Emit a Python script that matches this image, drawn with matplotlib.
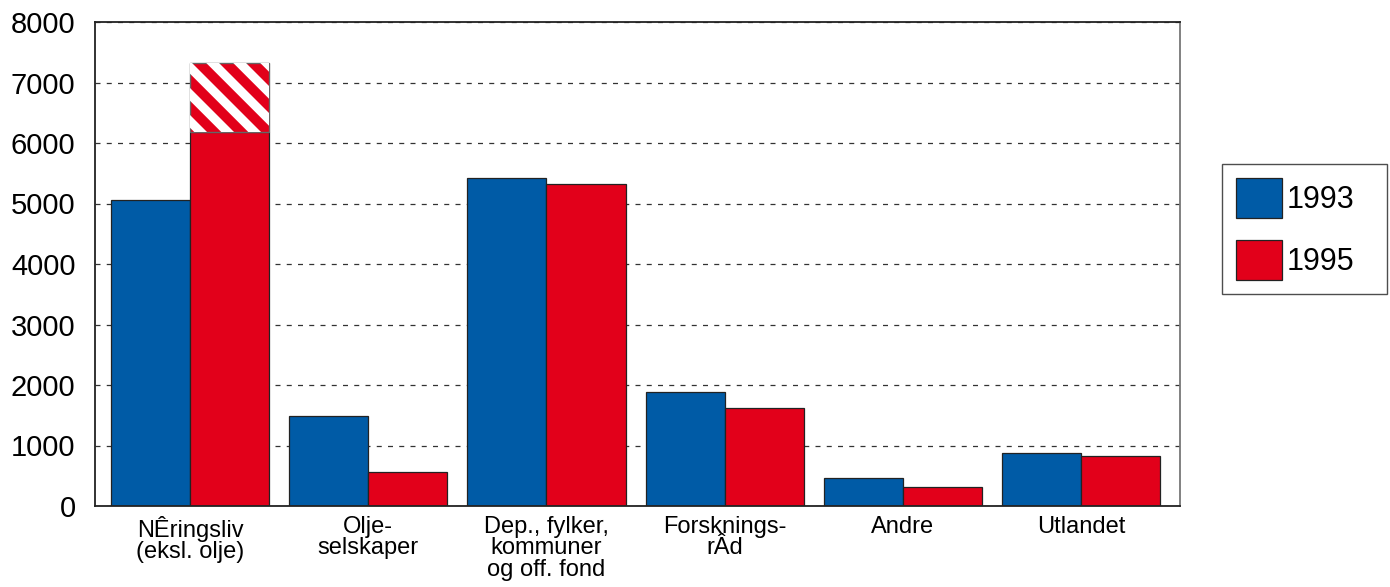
import matplotlib.pyplot as plt
import numpy as np
from matplotlib.transforms import IdentityTransform

plt.rcParams['font.family'] = ['Liberation Sans', 'DejaVu Sans']

# Data
categories = ["NÊringsliv\n(eksl. olje)", "Olje-\nselskaper",
              "Dep., fylker,\nkommuner\nog off. fond", "Forsknings-\nrÂd",
              "Andre", "Utlandet"]
v1993 = [5050, 1480, 5420, 1890, 465, 880]
v1995 = [6190, 560, 5330, 1620, 315, 830]
extra1995 = [1140, 0, 0, 0, 0, 0]   # striped top part
yticks = [0, 1000, 2000, 3000, 4000, 5000, 6000, 7000, 8000]

blue = "#005BA6"
red = "#E2001A"

fig = plt.figure(figsize=(13.9, 5.87), dpi=100)
ax = fig.add_axes([95 / 1390, 81 / 587, 1085 / 1390, 484 / 587])

x = np.arange(len(categories))
w = 0.444
ax.bar(x - w / 2, v1993, w, color=blue, edgecolor="#222222", linewidth=0.9, label="1993", zorder=2)
ax.bar(x + w / 2, v1995, w, color=red, edgecolor="#222222", linewidth=0.9, label="1995", zorder=2)
tops = ax.bar(x + w / 2, extra1995, w, bottom=v1995, color=red, edgecolor="none", zorder=2)

ax.set_xlim(-0.534, 5.556)
ax.set_ylim(0, 8000)
ax.set_yticks(yticks)
ax.set_xticks(x)
ax.set_xticklabels(categories, fontsize=17, linespacing=0.98)
ax.tick_params(axis="x", length=0, pad=7)
ax.tick_params(axis="y", length=0, pad=14, labelsize=21)
ax.grid(axis="y", color="#333333", linestyle=(0, (4, 5)), linewidth=0.9, zorder=1)
for s in ax.spines.values():
    s.set_linewidth(1.3)
    s.set_color("#222222")
ax.spines["right"].set_color("#777777")

# white diagonal stripes on the striped segment
for p, h in zip(tops, extra1995):
    if h <= 0:
        continue
    bb = p.get_window_extent()
    period = 27
    start = bb.x0 - bb.height - period
    xs = np.arange(start, bb.x1 + period, period)
    for x0 in xs:
        ln = plt.Line2D([x0, x0 + bb.height + 20], [bb.y1 + 10, bb.y0 - 10],
                        transform=IdentityTransform(), color="white", linewidth=6.5,
                        solid_capstyle="butt", zorder=3)
        ln.set_clip_path(p)
        fig.add_artist(ln)
    ax.bar(p.get_x() + w / 2, h, w, bottom=p.get_y(), fill=False,
           edgecolor="#666666", linewidth=1.0, zorder=4)

leg = ax.legend(loc="upper left", bbox_to_anchor=(1222 / 1390, 292 / 587, 165 / 1390, 131 / 587),
                bbox_transform=fig.transFigure, mode="expand", fontsize=22,
                frameon=True, fancybox=False, edgecolor="#222222", borderaxespad=0,
                handlelength=1.5, handleheight=1.65, handletextpad=0.15,
                labelspacing=0.72, borderpad=0.45)
leg.get_frame().set_linewidth(1.0)

fig.savefig("out.png", dpi=100)
